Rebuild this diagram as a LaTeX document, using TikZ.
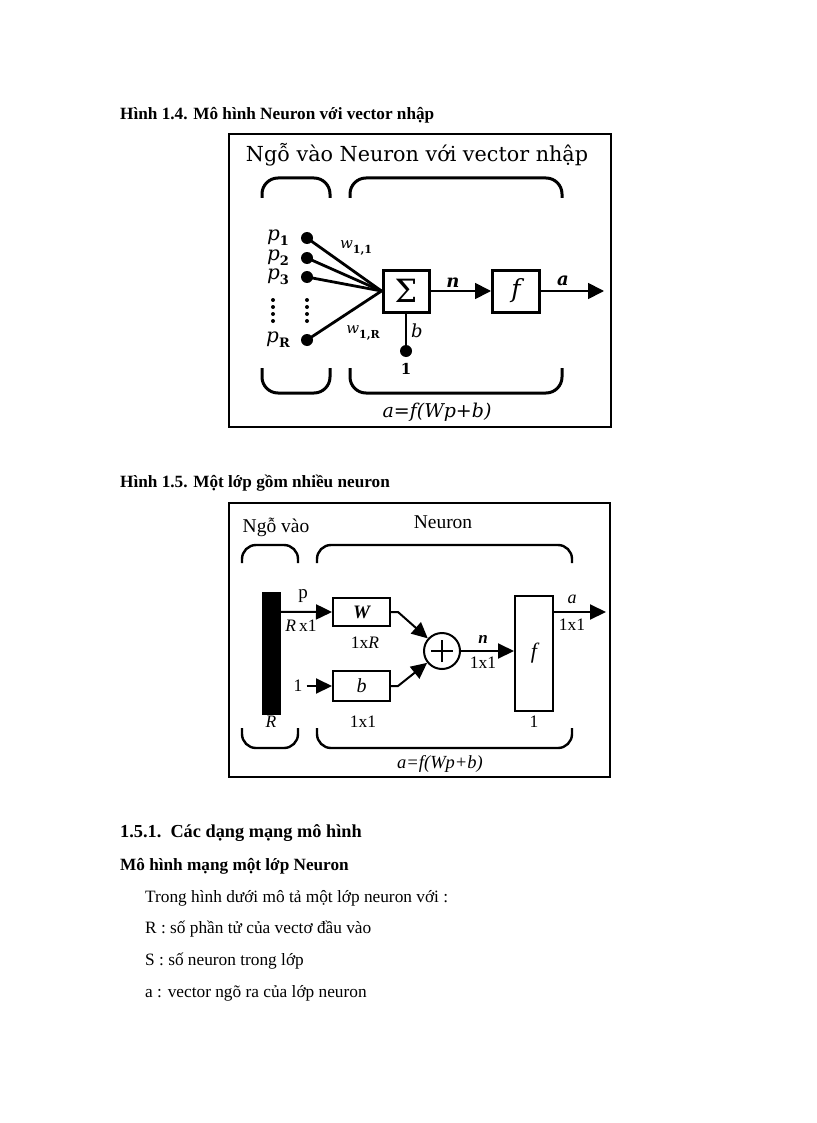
\documentclass[tikz,border=0pt]{standalone}
\usepackage{fontspec}
\setmainfont{Liberation Serif}
\newfontfamily\dejafont{DejaVu Serif}
\usetikzlibrary{arrows.meta}

\tikzset{
  caption/.style={anchor=base west, inner sep=0pt, font=\fontsize{17.2}{20}\selectfont\bfseries},
  body/.style={anchor=base west, inner sep=0pt, font=\fontsize{17.3}{20}\selectfont},
  lbla/.style={inner sep=0pt, font=\dejafont\fontsize{16}{18}\selectfont},
  lblb/.style={inner sep=0pt, font=\fontsize{17.5}{18}\selectfont},
  dot/.style={circle, fill=black, inner sep=0pt, minimum size=12pt},
  blk/.style={draw, line width=3pt, inner sep=0pt},
  thinblk/.style={draw, line width=2pt, inner sep=0pt},
  wire/.style={line width=2.8pt},
  arra/.style={line width=1.8pt, -{Triangle[length=16pt,width=16pt]}},
  arrb/.style={line width=2pt, -{Triangle[length=16pt,width=15pt]}},
  brc/.style={line width=3pt, rounded corners=16pt},
  frame/.style={line width=1.4pt},
}
\newcommand{\pin}[1]{\textit{p}\raisebox{-5pt}{\fontsize{13}{13}\selectfont\bfseries #1}}
\newcommand{\wgt}[1]{\textit{w}\raisebox{-5pt}{\fontsize{11}{11}\selectfont\bfseries #1}}

\begin{document}
\begin{tikzpicture}[x=1pt, y=-1pt]
\useasboundingbox[fill=white] (0,0) rectangle (816,1123);

% Hinh 1.4
\node[caption] (cap1) at (120,120) {Hình 1.4. Mô hình Neuron với vector nhập};
\draw[frame] (229,134) rectangle (611,427);
\node[lbla, anchor=base, font=\dejafont\fontsize{20.7}{22}\selectfont] (title1) at (417,162) {Ngỗ vào Neuron với vector nhập};

\draw[brc] (262,198) -- (262,178) -- (330,178) -- (330,198);
\draw[brc] (350,198) -- (350,178) -- (562,178) -- (562,198);
\draw[brc] (262,368) -- (262,393) -- (330,393) -- (330,368);
\draw[brc] (350,368) -- (350,393) -- (562,393) -- (562,368);

\node[blk, minimum width=46pt, minimum height=42pt, font=\dejafont\fontsize{32}{32}\selectfont] (sum) at (406,291) {Σ};
\node[blk, minimum width=47pt, minimum height=42pt, font=\dejafont\fontsize{25}{25}\selectfont\itshape] (f1) at (516,291) {f};
\coordinate (a1) at (604,291);

\node[dot] (p1) at (307,238) {};
\node[dot] (p2) at (307,258) {};
\node[dot] (p3) at (307,277) {};
\node[dot] (pR) at (307,340) {};
\node[dot] (one1) at (406,351) {};

\foreach \i in {p1,p2,p3,pR}
  \draw[wire] (\i.center) -- (sum.west);
\foreach \y in {300,307,314,321} {
  \fill (273,\y) circle (2pt);
  \fill (307,\y) circle (2pt);
}
\draw[wire] (one1.center) -- (sum.south);
\draw[arra] (sum.east) -- (f1.west);
\draw[arra] (f1.east) -- (a1);

\node[lbla, font=\dejafont\fontsize{20}{20}\selectfont] (lp1) at (278,238) {\pin{1}};
\node[lbla, font=\dejafont\fontsize{20}{20}\selectfont] (lp2) at (278,258) {\pin{2}};
\node[lbla, font=\dejafont\fontsize{20}{20}\selectfont] (lp3) at (278,277) {\pin{3}};
\node[lbla, font=\dejafont\fontsize{20}{20}\selectfont] (lpR) at (278,340) {\pin{R}};
\node[lbla, font=\dejafont\fontsize{15}{16}\selectfont] (w11) at (356,248) {\wgt{1,1}};
\node[lbla, font=\dejafont\fontsize{15}{16}\selectfont] (w1R) at (363,333) {\wgt{1,R}};
\node[lbla, font=\dejafont\fontsize{18}{18}\selectfont\bfseries\itshape] (ln1) at (453,283) {n};
\node[lbla, font=\dejafont\fontsize{18}{18}\selectfont\bfseries\itshape] (la1) at (563,281) {a};
\node[lbla, font=\dejafont\fontsize{18}{18}\selectfont\itshape] (lb1) at (417,331) {b};
\node[lbla, font=\dejafont\fontsize{15}{16}\selectfont\bfseries] (l11) at (406,369) {1};
\node[lbla, font=\dejafont\fontsize{19}{20}\selectfont\itshape] (form1) at (437,412) {a=f(Wp+b)};

% Hinh 1.5
\node[caption] (cap2) at (120,487) {Hình 1.5. Một lớp gồm nhiều neuron};
\draw[frame] (229,503) rectangle (610,777);
\node[lblb, anchor=base, font=\fontsize{19.5}{20}\selectfont] (title2a) at (276,532) {Ngỗ vào};
\node[lblb, anchor=base, font=\fontsize{19.5}{20}\selectfont] (title2b) at (443,528) {Neuron};

\draw[brc, line width=2.4pt, rounded corners=14pt] (242,563) -- (242,545) -- (298,545) -- (298,563);
\draw[brc, line width=2.4pt, rounded corners=14pt] (317,563) -- (317,545) -- (572,545) -- (572,563);
\draw[brc, line width=2.4pt, rounded corners=14pt] (242,728) -- (242,748) -- (298,748) -- (298,728);
\draw[brc, line width=2.4pt, rounded corners=14pt] (317,728) -- (317,748) -- (572,748) -- (572,728);

\node[fill=black, inner sep=0pt, minimum width=19pt, minimum height=123pt] (bar) at (271.5,653.5) {};
\node[thinblk, minimum width=57pt, minimum height=28pt, font=\fontsize{19}{19}\selectfont\bfseries\itshape] (W) at (361.5,612) {W};
\node[thinblk, minimum width=57pt, minimum height=30pt, font=\fontsize{20}{20}\selectfont\itshape] (b) at (361.5,686) {b};
\node[circle, thinblk, minimum size=36pt] (plus) at (442,651) {};
\draw[line width=2pt] ([xshift=-11pt]plus.center) -- ([xshift=11pt]plus.center)
  ([yshift=-11pt]plus.center) -- ([yshift=11pt]plus.center);
\node[thinblk, minimum width=38pt, minimum height=115pt, font=\fontsize{22}{22}\selectfont\itshape] (f2) at (534,653) {f};
\node[lblb] (one2) at (298,686) {1};
\coordinate (a2) at (606,612);

\draw[arrb] ([yshift=-20pt]bar.north east) -- (W.west);
\draw[arrb] (one2.east) ++(4pt,0) -- (b.west);
\draw[arrb] (W.east) -- ++(7,0) -- (plus);
\draw[arrb] (b.east) -- ++(7,0) -- (plus);
\draw[arrb] (plus.east) -- (plus.east -| f2.west);
\draw[arrb] (a2 -| f2.east) -- (a2);

\node[lblb, font=\fontsize{19}{20}\selectfont] (lp) at (303,596) {p};
\node[lblb] (lRx1) at (301,626) {\textit{R}\,x1};
\node[lblb] (l1xR) at (365,643) {1x\textit{R}};
\node[lblb] (l1x1b) at (363,722) {1x1};
\node[lblb] (lR) at (271,722) {\textit{R}};
\node[lblb, font=\fontsize{17}{18}\selectfont\bfseries\itshape] (ln2) at (483,639) {n};
\node[lblb] (l1x1n) at (483,663) {1x1};
\node[lblb] (l1f) at (534,722) {1};
\node[lblb, font=\fontsize{18}{18}\selectfont\itshape] (la2) at (572,599) {a};
\node[lblb] (l1x1a) at (572,625) {1x1};
\node[lblb, font=\fontsize{18.5}{20}\selectfont\itshape] (form2) at (440,764) {a=f(Wp+b)};

% text
\node[caption, font=\fontsize{18.3}{22}\selectfont\bfseries] (sec) at (120,837) {1.5.1.\ \ Các dạng mạng mô hình};
\node[caption] (sub) at (120,870) {Mô hình mạng một lớp Neuron};
\node[body] (t1) at (145,902) {Trong hình dưới mô tả một lớp neuron với :};
\node[body] (t2) at (145,933) {R : số phần tử của vectơ đầu vào};
\node[body] (t3) at (145,965) {S : số neuron trong lớp};
\node[body] (t4) at (145,997) {a : vector ngõ ra của lớp neuron};
\end{tikzpicture}
\end{document}
